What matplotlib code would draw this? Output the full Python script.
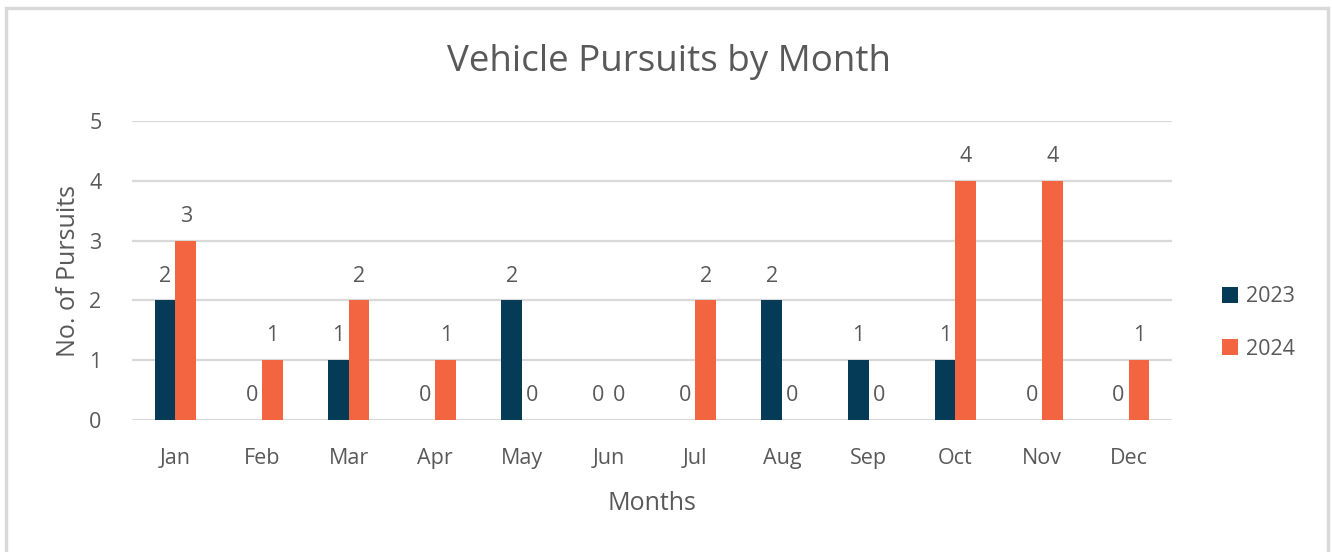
import numpy as np
import matplotlib
matplotlib.use('Agg')
import matplotlib.pyplot as plt
from matplotlib.patches import Rectangle

months = ["Jan", "Feb", "Mar", "Apr", "May", "Jun", "Jul", "Aug", "Sep", "Oct", "Nov", "Dec"]
pursuits_2023 = [2, 0, 1, 0, 2, 0, 0, 2, 1, 1, 0, 0]
pursuits_2024 = [3, 1, 2, 1, 0, 0, 2, 0, 0, 4, 4, 1]
series_labels = ["2023", "2024"]

col_2023 = "#053B56"
col_2024 = "#F26540"
txt = "#595959"
grid = "#D9D9D9"

plt.rcParams['font.family'] = ['Open Sans', 'DejaVu Sans']

fig = plt.figure(figsize=(13.32, 5.52), dpi=100)
ax = fig.add_axes([0.0991, 0.2391, 0.7808, 0.5417])

x = np.arange(len(months))
w = 0.24
b1 = ax.bar(x - w/2, pursuits_2023, w, color=col_2023, label=series_labels[0])
b2 = ax.bar(x + w/2, pursuits_2024, w, color=col_2024, label=series_labels[1])

for bars in (b1, b2):
    for rect in bars:
        h = rect.get_height()
        ax.annotate("{:d}".format(int(h)), (rect.get_x() + rect.get_width()/2, h),
                    xytext=(0, 10), textcoords='offset points', ha='center', va='bottom',
                    fontsize=15.5, color=txt)

ax.set_xlim(-0.5, len(months) - 0.5)
ax.set_ylim(0, 5)
ax.set_yticks(range(0, 6))
ax.set_xticks(x)
ax.set_xticklabels(months)
ax.grid(axis='y', color=grid, linewidth=1.6)
ax.set_axisbelow(True)
for s in ax.spines.values():
    s.set_visible(False)
ax.tick_params(length=0, labelsize=15.5, colors=txt)
ax.tick_params(axis='x', pad=20)
ax.tick_params(axis='y', pad=22)

ax.set_xlabel("Months", fontsize=18, color=txt, labelpad=16)
ax.set_ylabel("No. of Pursuits", fontsize=18, color=txt, labelpad=6)
fig.text(0.502, 0.888, "Vehicle Pursuits by Month", ha='center', va='center', fontsize=26.5, color=txt)

fig.legend(handles=[b1, b2], labels=series_labels, loc='center left', bbox_to_anchor=(0.903, 0.415),
           frameon=False, fontsize=15.5, labelcolor=txt, handlelength=0.75, handleheight=0.75,
           handletextpad=0.35, labelspacing=1.45)

fig.patches.append(Rectangle((6/1332, -0.05), 1322/1332, 1 - 8/552 + 0.05, transform=fig.transFigure,
                             fill=False, edgecolor=grid, linewidth=2.5))

plt.savefig("out.png", dpi=100)
